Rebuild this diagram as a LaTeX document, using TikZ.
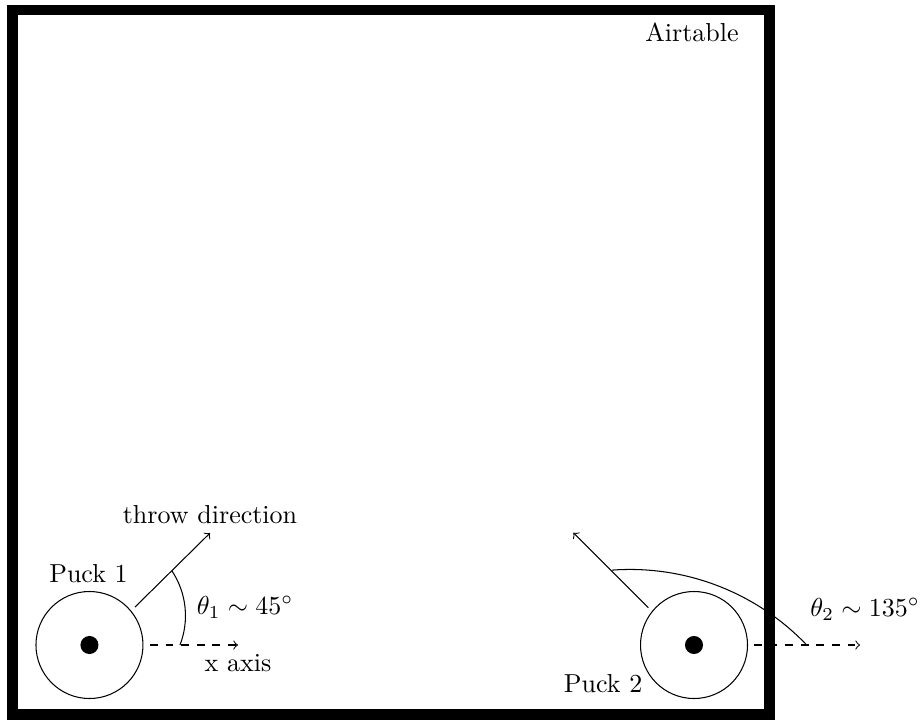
\documentclass[tikz,border=0pt]{standalone}
\begin{document}
\begin{tikzpicture}[>=to,line width=0.4pt,font=\normalsize]
  \useasboundingbox (0,0) rectangle (12.486,9.784);
  \coordinate (T1) at (0.169,0.135);
  \coordinate (T2) at (10.399,9.649);
  \coordinate (O1) at (1.209,1.068);
  \coordinate (O2) at (9.378,1.068);
  \coordinate (S1) at (1.824,1.581);
  \coordinate (E1) at (2.838,2.581);
  \coordinate (S2) at (8.761,1.572);
  \coordinate (E2) at (7.747,2.585);
  \coordinate (X1) at (2.027,1.068);
  \coordinate (Y1) at (3.216,1.068);
  \coordinate (X2) at (10.189,1.068);
  \coordinate (Y2) at (11.622,1.068);
  \coordinate (A1) at (2.432,1.068);
  \coordinate (A2) at (10.901,1.068);

  % 气垫桌边框
  \draw[line width=4.2pt] (T1) rectangle (T2);

  % 冰球
  \draw (O1) circle (0.723);
  \fill (O1) circle (0.122);
  \draw (O2) circle (0.723);
  \fill (O2) circle (0.122);

  % 投掷方向与 x 轴
  \draw[->] (S1) -- (E1);
  \draw[->] (S2) -- (E2);
  \draw[dashed,->] (X1) -- (Y1);
  \draw[dashed,->] (X2) -- (Y2);

  % 角度弧
  \draw (A1) arc[start angle=-21.2,end angle=33.5,radius=1.095];
  \draw (A2) arc[start angle=43.7,end angle=94.2,radius=3.303];

  % 标注
  \node (air) at (9.351,9.351) {Airtable};
  \node (p1) at (1.196,2.027) {Puck 1};
  \node (p2) at (8.149,0.541) {Puck 2};
  \node[above] (thr) at (E1) {throw direction};
  \node[below] (xax) at (Y1) {x axis};
  \node (th1) at (3.311,1.581) {$\theta_1 \sim 45^\circ$};
  \node (th2) at (11.689,1.554) {$\theta_2 \sim 135^\circ$};
\end{tikzpicture}
\end{document}
